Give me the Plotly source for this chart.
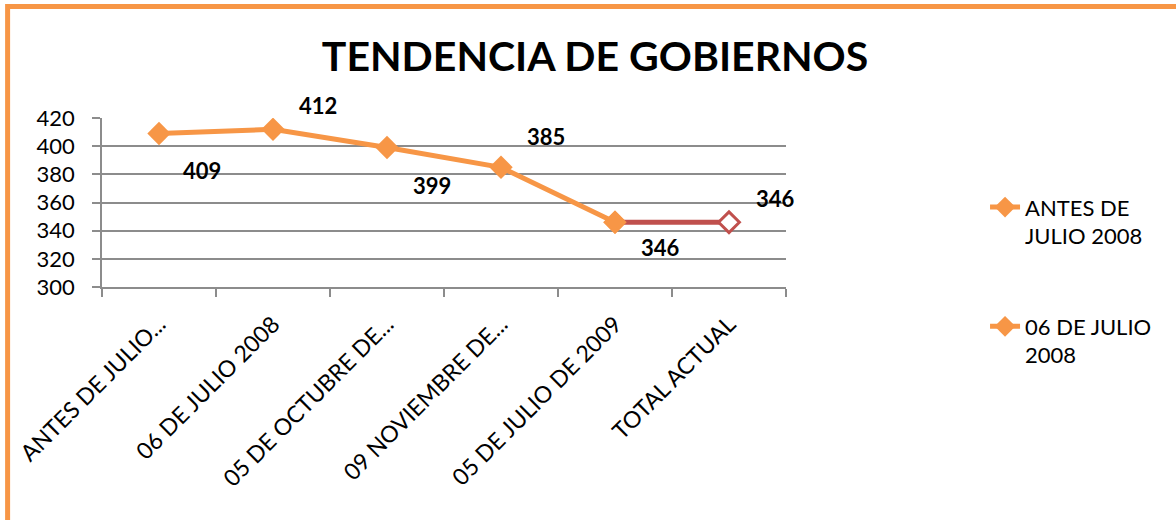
import plotly.graph_objects as go

categories = ["ANTES DE JULIO...", "06 DE JULIO 2008", "05 DE OCTUBRE DE...",
              "09 NOVIEMBRE DE...", "05 DE JULIO DE 2009", "TOTAL ACTUAL"]
values = [409, 412, 399, 385, 346, 346]
legend_names = ["ANTES DE<br>JULIO 2008", "06 DE JULIO<br>2008"]
# label offsets (px): below-right / above-right as in reference
label_dx = [43, 45, 45, 45, 45, 46]
label_dy = [-37, 24, -38, 31, -25, 24]

ORANGE = "#F79646"
RED = "#C0504D"
GRID = "#8C8C8C"
FONT = "Lato"

fig = go.Figure()

# main orange line (first five points)
fig.add_trace(go.Scatter(
    x=categories[:5], y=values[:5], mode="lines+markers",
    line=dict(color=ORANGE, width=5),
    marker=dict(symbol="diamond", size=18, color=ORANGE),
    showlegend=False, hoverinfo="x+y"))

# red final segment
fig.add_trace(go.Scatter(
    x=categories[4:6], y=values[4:6], mode="lines",
    line=dict(color=RED, width=5), showlegend=False))
fig.add_trace(go.Scatter(
    x=categories[4:5], y=values[4:5], mode="markers",
    marker=dict(symbol="diamond", size=18, color=ORANGE), showlegend=False))
fig.add_trace(go.Scatter(
    x=categories[5:6], y=values[5:6], mode="markers",
    marker=dict(symbol="diamond", size=16, color="white",
                line=dict(color=RED, width=3)), showlegend=False))

# legend entries
for i, name in enumerate(legend_names):
    fig.add_trace(go.Scatter(
        x=[None], y=[None], mode="lines+markers", name=name,
        legendgroup="g%d" % i,
        line=dict(color=ORANGE, width=5),
        marker=dict(symbol="diamond", size=16, color=ORANGE)))

for c, v, dx, dy in zip(categories, values, label_dx, label_dy):
    fig.add_annotation(x=c, y=v, xref="x", yref="y", text="<b>%d</b>" % v,
                       showarrow=False, xshift=dx, yshift=dy,
                       font=dict(family=FONT, size=22, color="black"))

# orange chart border
fig.add_shape(type="rect", xref="paper", yref="paper",
              x0=-0.138, y0=-2.5, x1=2.0, y1=1.66,
              line=dict(color=ORANGE, width=5), fillcolor="rgba(0,0,0,0)",
              layer="below")

fig.update_layout(
    width=1176, height=520, autosize=False,
    margin=dict(l=102, r=390, t=118, b=233, autoexpand=False),
    paper_bgcolor="white", plot_bgcolor="white",
    font=dict(family=FONT, color="black"),
    title=dict(text="<b>TENDENCIA DE GOBIERNOS</b>", x=0.506, xanchor="center",
               y=1 - 57 / 520, yanchor="middle",
               font=dict(family=FONT, size=41, color="black")),
    xaxis=dict(type="category", categoryorder="array", categoryarray=categories,
               tickangle=-45, tickson="boundaries", ticks="outside", ticklen=8,
               tickcolor=GRID, tickwidth=1.5, showline=True, linecolor=GRID,
               linewidth=1.5, automargin=False, ticklabelstandoff=13,
               showgrid=False, tickfont=dict(family=FONT, size=23, color="black"),
               range=[-0.5, 5.5]),
    yaxis=dict(range=[300, 420], dtick=20, showgrid=True, gridcolor=GRID,
               gridwidth=1.5, ticks="outside", ticklen=8, tickcolor=GRID,
               tickwidth=1.5, automargin=False, ticklabelstandoff=13,
               showline=True, linecolor=GRID, linewidth=1.5, zeroline=False,
               tickfont=dict(family=FONT, size=22, color="black")),
    legend=dict(x=1.291, y=0.596, xanchor="left", yanchor="top",
                valign="top", traceorder="grouped", tracegroupgap=59,
                maxheight=400,
                font=dict(family=FONT, size=22, color="black"),
                bgcolor="rgba(0,0,0,0)"),
)

fig.write_html("out.html",
               config={"displayModeBar": False},
               post_script="document.body.style.margin='0';"
                           "document.body.style.padding='0';")
